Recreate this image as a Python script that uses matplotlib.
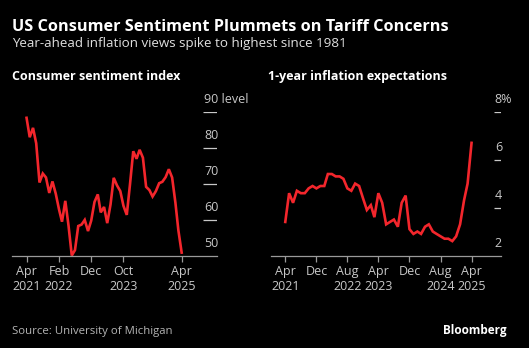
import matplotlib
matplotlib.use("Agg")
import matplotlib.pyplot as plt
import numpy as np
import pandas as pd

# University of Michigan survey, monthly Apr 2021 - Apr 2025
months = pd.date_range("2021-04-01", "2025-04-01", freq="MS")

sentiment = [
    88.3, 82.9, 85.5, 81.2, 70.3, 72.8, 71.7, 67.4, 70.6,
    67.2, 62.8, 59.4, 65.2, 58.4, 50.0, 51.5, 58.2, 58.6, 59.9, 56.8, 59.7,
    64.9, 67.0, 62.0, 63.5, 59.0, 64.2, 71.6, 69.5, 67.9, 63.8, 61.3, 69.7,
    79.0, 76.9, 79.4, 77.2, 69.1, 68.2, 66.4, 67.9, 70.1, 70.5, 71.8, 74.0,
    71.7, 64.7, 57.0, 50.8,
]
inflation = [
    3.4, 4.6, 4.2, 4.7, 4.6, 4.6, 4.8, 4.9, 4.8,
    4.9, 4.9, 5.4, 5.4, 5.3, 5.3, 5.2, 4.8, 4.7, 5.0, 4.9, 4.4,
    3.9, 4.1, 3.6, 4.6, 4.2, 3.3, 3.4, 3.5, 3.2, 4.2, 4.5, 3.1,
    2.9, 3.0, 2.9, 3.2, 3.3, 3.0, 2.9, 2.8, 2.7, 2.7, 2.6, 2.8,
    3.3, 4.3, 5.0, 6.7,
]

sent_yticks = [50, 60, 70, 80, 90]
sent_ylabels = ["50", "60", "70", "80", "90 level"]
infl_yticks = [2, 4, 6, 8]
infl_ylabels = ["2", "4", "6", "8%"]

sent_xticks = ["2021-04-01", "2022-02-01", "2022-12-01", "2023-10-01", "2025-04-01"]
sent_xlabels = ["Apr\n2021", "Feb\n2022", "Dec", "Oct\n2023", "Apr\n2025"]
infl_xticks = ["2021-04-01", "2021-12-01", "2022-08-01", "2023-04-01",
               "2023-12-01", "2024-08-01", "2025-04-01"]
infl_xlabels = ["Apr\n2021", "Dec", "Aug\n2022", "Apr\n2023", "Dec", "Aug\n2024", "Apr\n2025"]

BG = "black"
RED = "#f3262c"
AXIS = "#9a9a9a"
TICKTXT = "#c8c8c8"

plt.rcParams["font.family"] = ["Open Sans", "DejaVu Sans"]

W, H = 529, 348
fig = plt.figure(figsize=(W / 100, H / 100), dpi=100, facecolor=BG)


def px(x0, x1, top, bottom):
    return [x0 / W, 1 - bottom / H, (x1 - x0) / W, (bottom - top) / H]


def panel(rect, y, yticks, ylabels, xticks, xlabels, ylim, xlim, dash_from):
    ax = fig.add_axes(rect)
    ax.set_facecolor(BG)
    ax.plot(months, y, color=RED, lw=1.9, solid_joinstyle="miter", clip_on=False)
    ax.set_ylim(*ylim)
    ax.set_xlim(pd.Timestamp(xlim[0]), pd.Timestamp(xlim[1]))
    for s in ["top", "right", "left"]:
        ax.spines[s].set_visible(False)
    ax.spines["bottom"].set_color(AXIS)
    ax.spines["bottom"].set_linewidth(0.9)
    ax.set_yticks([])
    ax.set_xticks([pd.Timestamp(t) for t in xticks])
    ax.set_xticklabels(xlabels, color=TICKTXT, fontsize=9, linespacing=1.15)
    ax.tick_params(axis="x", length=4, width=0.9, color=AXIS, pad=3)
    trans = ax.get_yaxis_transform()
    for v, lab in zip(yticks, ylabels):
        if v != ylim[0]:
            ax.hlines(v, dash_from, 1.0, transform=trans, color=TICKTXT, lw=0.9)
        ax.annotate(lab, (dash_from, v), xycoords=trans, xytext=(0.5, 4),
                    textcoords="offset points", color=TICKTXT, fontsize=9,
                    ha="left", va="bottom")
    return ax


panel(px(12, 216.7, 111.7, 255.5), sentiment, sent_yticks, sent_ylabels,
      sent_xticks, sent_xlabels, (50, 90), ("2020-11-15", "2026-02-25"), 0.935)
panel(px(271, 501, 111.7, 255.5), inflation, infl_yticks, infl_ylabels,
      infl_xticks, infl_xlabels, (2, 8), ("2020-12-10", "2025-11-18"), 0.97)

fig.text(12 / W, 1 - 30.7 / H, "US Consumer Sentiment Plummets on Tariff Concerns",
         color="white", fontsize=11.7, fontweight="bold", va="baseline")
fig.text(12 / W, 1 - 46.7 / H, "Year-ahead inflation views spike to highest since 1981",
         color="#e0e0e0", fontsize=9.6, va="baseline")
fig.text(12 / W, 1 - 80 / H, "Consumer sentiment index",
         color="white", fontsize=9, fontweight="bold", va="baseline")
fig.text(267.7 / W, 1 - 80 / H, "1-year inflation expectations",
         color="white", fontsize=9, fontweight="bold", va="baseline")
fig.text(12 / W, 1 - 334.3 / H, "Source: University of Michigan",
         color="#b4b4b4", fontsize=8.2, va="baseline")
fig.text(507 / W, 1 - 334 / H, "Bloomberg",
         color="white", fontsize=8.5, fontweight="bold", va="baseline", ha="right")

fig.savefig("out.png", dpi=100, facecolor=BG)
